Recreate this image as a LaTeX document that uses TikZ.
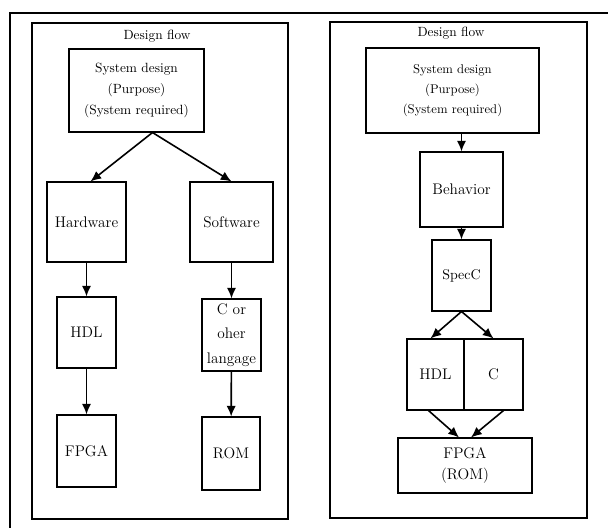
\documentclass[tikz,border=0pt]{standalone}
\usepackage{tikz}
\usetikzlibrary{arrows.meta,calc}

\tikzset{
  blk/.style 2 args={draw, thick, inner sep=0pt, align=center,
    minimum width=#1*0.75pt, minimum height=#2*0.75pt},
  mid/.style={font=\fontsize{11.5}{14}\selectfont},
  flow/.style={-{Latex[length=8pt,width=7pt]}, line width=1.2pt},
}

\begin{document}
\begin{tikzpicture}[x=0.75pt, y=-0.75pt, >=Latex]
    \useasboundingbox (0,0) rectangle (608,528);
    % Outer frame (runs off the page to the right and below)
    \draw[line width=1.1pt] (10,528) -- (10,13) -- (608,13);
    % Panels
    \draw[thick] (32,23) rectangle (288,519);
    \draw[thick] (330,22) rectangle (587,518);

    % Left panel: hardware / software split
    \node (title1) at (157,36) {Design flow};
    \node[blk={135}{83}, font=\fontsize{10}{15.5}\selectfont] (sys1) at (136.5,90.5)
      {System design\\(Purpose)\\(System required)};
    \coordinate (fork) at ($(sys1.south)+(16,0)$);
    \node[blk={79}{80}, mid] (hw) at (86.5,222) {Hardware};
    \node[blk={83}{80}, mid] (sw) at (231.5,222) {Software};
    \node[blk={59}{71}, mid] (hdl1) at (86.5,332.5) {HDL};
    \node[blk={59}{72}, font=\fontsize{11.5}{18.5}\selectfont] (lang) at (231.5,335)
      {C or\\oher\\langage};
    \node[blk={59}{72}, mid] (fpga1) at (86.5,451) {FPGA};
    \node[blk={58}{73}, mid] (rom) at (231,453.5) {ROM};

    \draw[flow] (fork) -- ($(hw.north)+(4,0)$);
    \draw[flow] (fork) -- (sw.north);
    \draw[flow] (hw) -- (hdl1);
    \draw[flow] (hdl1) -- (fpga1);
    \draw[flow] (sw) -- (lang);
    \draw[flow] (lang) -- (rom);

    % Right panel: SpecC based flow
    \node (title2) at (451,33) {Design flow};
    \node[blk={173}{85}, font=\fontsize{9.5}{15}\selectfont] (sys2) at (452.5,90.5)
      {System design\\(Purpose)\\(System required)};
    \node[blk={83}{75}, mid] (beh) at (461.5,189.5) {Behavior};
    \node[blk={59}{71}, font=\fontsize{10.5}{13}\selectfont] (spec) at (461.5,275.5) {SpecC};
    \node[blk={57}{71}, mid] (hdl2) at (435.5,374.5) {HDL};
    \node[blk={59}{71}, mid] (cc) at (493.5,374.5) {C};
    \node[blk={134}{55}, font=\fontsize{11.5}{16}\selectfont] (fpga2) at (465,465.5)
      {FPGA\\(ROM)};

    \draw[flow] (sys2.south -| beh) -- (beh);
    \draw[flow] (beh) -- (spec);
    \draw[flow] (spec.south) -- ($(hdl2.north)+(-5,0)$);
    \draw[flow] (spec.south) -- (cc.north);
    \draw[flow] ($(hdl2.south)+(-7,0)$) -- ($(fpga2.north)+(-6,0)$);
    \draw[flow] ($(cc.south)+(10,0)$) -- ($(fpga2.north)+(6,0)$);
\end{tikzpicture}
\end{document}
